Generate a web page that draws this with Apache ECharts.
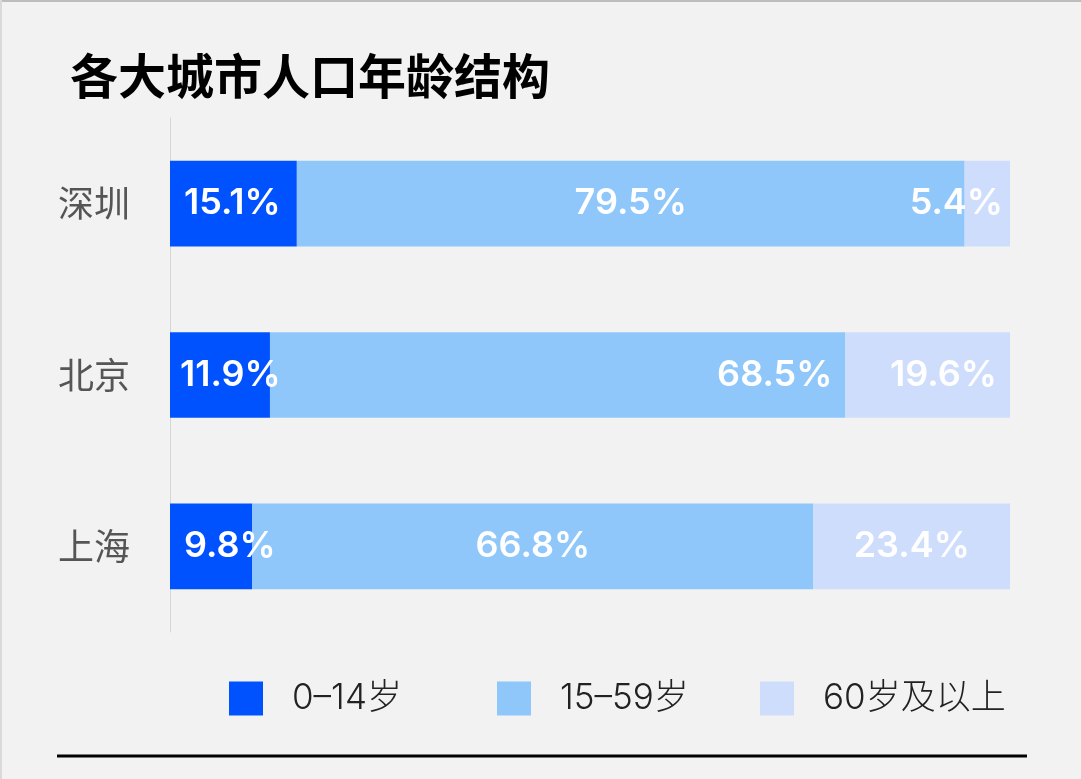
<!DOCTYPE html>
<html><head><meta charset="utf-8">
<script src="https://cdn.jsdelivr.net/npm/echarts@6/dist/echarts.min.js"></script>
<style>html,body{margin:0;padding:0;background:#f2f2f2;}#c{width:1081px;height:779px;}</style>
</head><body><div id="c"></div>
<script>
const cities = ['深圳', '北京', '上海'];
const seriesNames = ['0–14岁', '15–59岁', '60岁及以上'];
const age0to14 = [15.1, 11.9, 9.8];
const age15to59 = [79.5, 68.5, 66.8];
const age60plus = [5.4, 19.6, 23.4];

const colors = ['#0052ff', '#8fc7fa', '#cfddfd'];
const labelPos = [
  ['insideLeft', 'insideLeft', 'insideLeft'],
  ['inside', 'insideRight', 'inside'],
  ['insideRight', 'insideRight', 'inside']
];
const numFont = "Inter, 'Noto Sans', 'Noto Sans CJK SC', sans-serif";
const cjkFont = "'Noto Sans CJK SC', sans-serif";
const values = [age0to14, age15to59, age60plus];

const chart = echarts.init(document.getElementById('c'));
const series = values.map((vals, si) => ({
  name: seriesNames[si],
  type: 'bar',
  stack: 'total',
  barWidth: '50%',
  itemStyle: { color: colors[si] },
  data: vals.map((v, i) => ({
    value: v,
    label: {
      show: true,
      position: labelPos[si][i],
      distance: labelPos[si][i] === 'insideRight' ? (i === 0 ? 7 : 13) : (i === 1 ? 10 : 14),
      formatter: p => p.value.toFixed(1) + '%',
      color: '#ffffff',
      fontSize: 36,
      fontWeight: 600,
      fontFamily: numFont
    }
  }))
}));

const legendLefts = [229, 497, 760];
chart.setOption({
  backgroundColor: '#f2f2f2',
  animation: false,
  title: {
    text: '各大城市人口年龄结构',
    left: 70, top: 52, padding: 0,
    textStyle: { fontSize: 48, fontWeight: 'bold', color: '#000', fontFamily: cjkFont }
  },
  legend: seriesNames.map((n, i) => ({
    data: [n],
    left: legendLefts[i], top: 681, padding: 0,
    itemWidth: 34, itemHeight: 34,
    icon: 'rect',
    selectedMode: false,
    textStyle: { fontSize: 35, fontWeight: 300, color: '#222', fontFamily: numFont, padding: [0, 0, 0, 24] }
  })),
  grid: { left: 170, right: 71, top: 118, bottom: 147, containLabel: false },
  xAxis: { type: 'value', min: 0, max: 100, show: false },
  yAxis: {
    type: 'category',
    data: cities,
    inverse: true,
    axisLine: { show: true, lineStyle: { color: '#d6d6d6', width: 1 } },
    axisTick: { show: false },
    axisLabel: { fontSize: 36, color: '#555', margin: 40, fontFamily: cjkFont }
  },
  series: series,
  graphic: [
    { type: 'line', shape: { x1: 0, y1: 1, x2: 1081, y2: 1 }, style: { stroke: '#bdbdbd', lineWidth: 2 } },
    { type: 'line', shape: { x1: 1, y1: 0, x2: 1, y2: 779 }, style: { stroke: '#d9d9d9', lineWidth: 2 } },
    { type: 'line', shape: { x1: 57, y1: 756, x2: 1027, y2: 756 }, style: { stroke: '#000', lineWidth: 3 } }
  ]
});
</script></body></html>
